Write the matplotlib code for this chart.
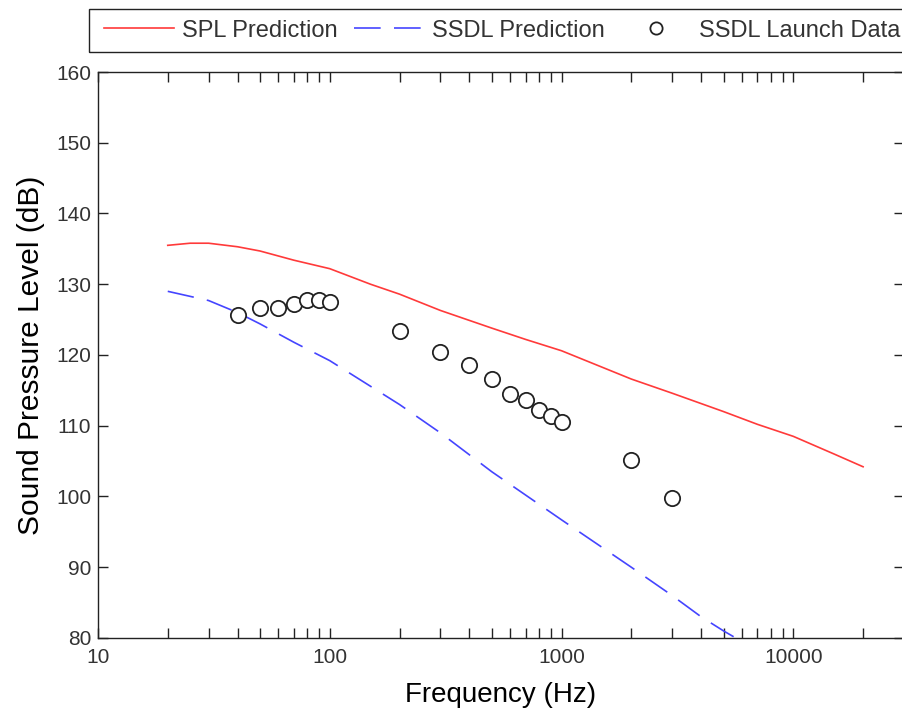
import numpy as np
import matplotlib
matplotlib.use('Agg')
import matplotlib.pyplot as plt
from matplotlib.patches import Rectangle
from matplotlib.ticker import FixedLocator, NullFormatter, FixedFormatter

plt.rcParams['font.family'] = ['Liberation Sans', 'DejaVu Sans']

# SPL prediction (red)
spl_f = [20, 25, 30, 40, 50, 70, 100, 150, 200, 300, 500, 700, 1000,
         2000, 3000, 5000, 7000, 10000, 15000, 20000]
spl_db = [135.5, 135.8, 135.8, 135.3, 134.7, 133.4, 132.2, 130.0, 128.6, 126.3,
          123.8, 122.2, 120.6, 116.6, 114.6, 112.0, 110.2, 108.5, 106.0, 104.2]

# SSDL prediction (blue dashed)
ssdl_f = [20, 30, 40, 50, 70, 100, 200, 300, 500, 700, 1000,
          2000, 3000, 4000, 5000, 6000, 8000]
ssdl_db = [129.0, 127.7, 126.0, 124.4, 121.8, 119.2, 113.0, 109.0, 103.5, 100.2,
           96.7, 90.0, 86.0, 83.0, 81.0, 79.5, 76.5]

# SSDL launch data (circles)
launch_f = [40, 50, 60, 70, 80, 90, 100, 200, 300, 400, 500, 600, 700,
            800, 900, 1000, 2000, 3000]
launch_db = [125.6, 126.6, 126.7, 127.2, 127.8, 127.8, 127.5, 123.4, 120.4, 118.6,
             116.6, 114.5, 113.6, 112.2, 111.4, 110.5, 105.2, 99.8]

fig = plt.figure(figsize=(9.03, 7.08), dpi=100)
ax = fig.add_axes([0.1085, 0.0989, 0.8925, 0.7994])

ax.plot(spl_f, spl_db, color='#ff3a3a', lw=1.2, label='SPL Prediction')
ax.plot(ssdl_f, ssdl_db, color='#4545ff', lw=1.2, dashes=(16, 8), label='SSDL Prediction')
ax.plot(launch_f, launch_db, ls='none', marker='o', ms=11, mfc='white',
        mec='#222222', mew=1.3, label='SSDL Launch Data')

ax.set_xscale('log')
ax.set_xlim(10, 30000)
ax.set_ylim(80, 160)

ax.xaxis.set_major_locator(FixedLocator([10, 100, 1000, 10000]))
ax.xaxis.set_major_formatter(FixedFormatter(['10', '100', '1000', '10000']))
minors = [m * 10 ** d for d in range(1, 5) for m in range(2, 10)]
ax.xaxis.set_minor_locator(FixedLocator(minors))
ax.xaxis.set_minor_formatter(NullFormatter())
ax.set_yticks(np.arange(80, 161, 10))

ax.tick_params(which='both', direction='in', top=True, right=True,
               length=7, width=1, colors='#222222', labelsize=15, labelcolor='#333333')
ax.tick_params(axis='x', pad=7)
ax.tick_params(axis='y', pad=5)
for s in ax.spines.values():
    s.set_color('#222222')
    s.set_linewidth(1)

ax.set_xlabel('Frequency (Hz)', fontsize=20, labelpad=11)
ax.set_ylabel('Sound Pressure Level (dB)', fontsize=21.5, labelpad=8)

# legend box runs off the right edge in the original, so draw the frame by hand
leg = fig.legend(loc='upper left', bbox_to_anchor=(93 / 903, 1 - 9 / 708), ncol=3,
                 fontsize=17, frameon=False,
                 handlelength=3.0, columnspacing=0.7, borderpad=0.45,
                 handletextpad=0.3, markerscale=0.8, borderaxespad=0)
for t in leg.get_texts():
    t.set_color('#333333')
fig.patches.append(Rectangle((89 / 903, 1 - 52 / 708), 0.95, 43 / 708,
                             transform=fig.transFigure, fill=False,
                             edgecolor='#222222', linewidth=1))

fig.savefig('out.png', dpi=100)
